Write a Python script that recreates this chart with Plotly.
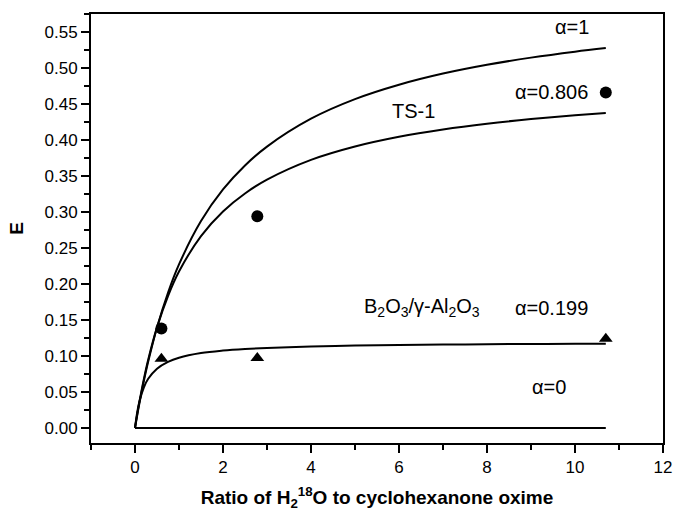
import plotly.graph_objects as go

# Curves
x_curve = [0, 0.05, 0.1, 0.2, 0.3, 0.5, 0.75, 1, 1.5, 2, 2.5, 3, 4, 5, 6, 7, 8, 9, 10, 10.7]
e_alpha1 = [0, 0.0176, 0.0341, 0.0647, 0.0921, 0.1395, 0.1878, 0.2271, 0.2873, 0.3312,
            0.3646, 0.3908, 0.4295, 0.4567, 0.4767, 0.4922, 0.5044, 0.5144, 0.5227, 0.5277]
e_ts1 = [0, 0.0188, 0.0362, 0.0674, 0.0946, 0.1396, 0.1832, 0.2172, 0.2665, 0.3007,
         0.3257, 0.3449, 0.3723, 0.3909, 0.4044, 0.4146, 0.4226, 0.4290, 0.4343, 0.4375]
e_b2o3 = [0, 0.0216, 0.0367, 0.0561, 0.0682, 0.0823, 0.0918, 0.0975, 0.1039, 0.1074,
          0.1096, 0.1111, 0.1131, 0.1143, 0.1152, 0.1158, 0.1162, 0.1166, 0.1169, 0.1170]
x_zero = [0, 10.7]
e_zero = [0, 0]

# Experimental points
x_pts = [0.6, 2.78, 10.7]
e_ts1_pts = [0.138, 0.294, 0.466]
e_b2o3_pts = [0.096, 0.097, 0.124]

FONT = "Liberation Sans, Arial"
line_style = dict(color="black", width=2)
fig = go.Figure()
for xs, ys in [(x_curve, e_alpha1), (x_curve, e_ts1), (x_curve, e_b2o3), (x_zero, e_zero)]:
    fig.add_trace(go.Scatter(x=xs, y=ys, mode="lines", line=dict(line_style, shape="spline"),
                             showlegend=False, hoverinfo="skip"))
fig.add_trace(go.Scatter(x=x_pts, y=e_ts1_pts, mode="markers",
                         marker=dict(symbol="circle", size=12, color="black"), showlegend=False))
fig.add_trace(go.Scatter(x=x_pts, y=e_b2o3_pts, mode="markers",
                         marker=dict(symbol="triangle-up", size=12, color="black"), showlegend=False))

ann_font = dict(family=FONT, size=20, color="black")
labels = [
    (9.93, 0.557, "α=1"),
    (9.47, 0.467, "α=0.806"),
    (6.33, 0.440, "TS-1"),
    (6.53, 0.167, "B<sub>2</sub>O<sub>3</sub>/γ-Al<sub>2</sub>O<sub>3</sub>"),
    (9.46, 0.167, "α=0.199"),
    (9.40, 0.057, "α=0"),
]
for x, y, t in labels:
    fig.add_annotation(x=x, y=y, text=t, showarrow=False, font=ann_font)

axis_common = dict(showline=True, linecolor="black", linewidth=2, mirror=True,
                   ticks="outside", tickcolor="black", tickwidth=2, ticklen=8,
                   showgrid=False, zeroline=False,
                   tickfont=dict(family=FONT, size=17, color="black"))

fig.update_xaxes(range=[-1, 12], tickvals=[0, 2, 4, 6, 8, 10, 12],
                 minor=dict(dtick=1, tick0=-1, ticks="outside", ticklen=5, tickwidth=2, tickcolor="black"),
                 title=dict(text="<b>Ratio of H<sub>2</sub><sup>18</sup>O to cyclohexanone oxime</b>",
                            font=dict(family=FONT, size=19, color="black"),
                            standoff=14),
                 **axis_common)
fig.update_yaxes(range=[-0.021, 0.575], tickvals=[i * 0.05 for i in range(12)],
                 tickformat=".2f",
                 minor=dict(dtick=0.025, tick0=0, ticks="outside", ticklen=5, tickwidth=2, tickcolor="black"),
                 title=dict(text="<b>E</b>", font=dict(family=FONT, size=19, color="black"),
                            standoff=16),
                 **axis_common)

fig.update_layout(width=682, height=516, margin=dict(l=91, r=10, t=14, b=73),
                  plot_bgcolor="white", paper_bgcolor="white")
fig.write_html("out.html")
